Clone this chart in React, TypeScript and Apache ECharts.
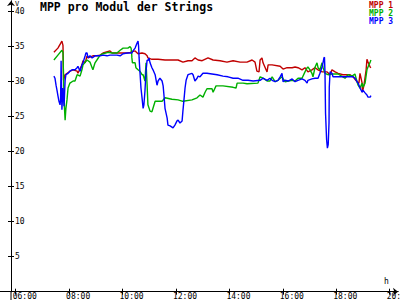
import React, { useEffect, useRef } from "react";
import * as echarts from "echarts";

const seriesNames = ["MPP 1", "MPP 2", "MPP 3"];
const seriesColors = ["#c00000", "#00b000", "#0000ff"];
const xTickHours = [6, 8, 10, 12, 14, 16, 18, 20];
const yTickValues = [5, 10, 15, 20, 25, 30, 35, 40];
const titleText = "MPP pro Modul der Strings";
const yUnit = "V";
const xUnit = "h";

// [hour of day, volts]
const mpp1: [number, number][] = [
  [7.43, 34.2], [7.58, 34.8], [7.73, 35.8], [7.77, 35.2], [7.79, 30.2], [7.85, 31.0], [8.03, 31.5],
  [8.15, 31.7], [8.3, 31.5], [8.33, 31.2], [8.48, 32.4], [8.52, 33.0], [8.6, 32.7], [8.67, 33.7],
  [8.71, 33.4], [8.89, 33.7], [9.04, 33.7], [9.16, 33.8], [9.27, 34.1], [9.53, 34.4], [9.61, 34.1],
  [9.79, 34.1], [9.98, 34.1], [10.17, 34.1], [10.28, 34.2], [10.47, 34.4], [10.58, 34.0], [10.73, 34.1],
  [10.84, 34.0], [10.92, 33.7], [10.95, 33.4], [11.1, 33.2], [11.33, 33.2], [11.59, 33.1], [11.85, 33.1],
  [12.08, 33.1], [12.26, 32.8], [12.45, 33.0], [12.6, 33.0], [12.71, 33.4], [12.83, 33.1], [12.98, 33.0],
  [13.2, 33.4], [13.39, 33.1], [13.65, 33.0], [13.91, 32.8], [14.14, 33.0], [14.4, 32.8], [14.66, 32.8],
  [14.85, 33.1], [14.96, 32.8], [15.03, 31.5], [15.11, 31.4], [15.15, 33.1], [15.22, 33.4], [15.26, 32.7],
  [15.41, 31.4], [15.45, 32.4], [15.6, 32.4], [15.9, 32.2], [16.01, 31.8], [16.16, 32.0], [16.35, 32.0],
  [16.46, 32.1], [16.57, 32.0], [16.72, 31.7], [16.83, 32.0], [16.94, 31.4], [17.09, 31.7], [17.21, 32.0],
  [17.32, 31.7], [17.47, 31.4], [17.66, 31.4], [17.77, 31.0], [17.84, 31.7], [17.96, 31.4], [18.07, 31.2],
  [18.25, 31.0], [18.52, 31.0], [18.63, 30.7], [18.78, 30.0], [18.85, 29.8], [18.89, 31.2], [18.97, 29.8],
  [18.98, 28.5], [19.04, 29.5], [19.12, 31.7], [19.15, 33.2], [19.19, 32.8], [19.27, 32.1], [19.3, 32.0],
];

const mpp2: [number, number][] = [
  [7.43, 33.1], [7.58, 33.8], [7.73, 34.5], [7.77, 34.2], [7.81, 27.4], [7.85, 24.5], [7.88, 26.2],
  [7.92, 27.4], [7.96, 29.1], [8.03, 29.8], [8.15, 30.1], [8.22, 30.1], [8.3, 31.0], [8.41, 30.8],
  [8.48, 31.7], [8.52, 32.4], [8.67, 33.1], [8.78, 32.8], [8.86, 32.0], [8.89, 31.7], [8.97, 32.7],
  [9.04, 33.1], [9.16, 33.8], [9.27, 34.0], [9.46, 34.2], [9.61, 34.1], [9.79, 34.1], [9.91, 34.5],
  [10.02, 34.8], [10.2, 34.8], [10.28, 35.0], [10.32, 34.8], [10.34, 34.1], [10.35, 33.4], [10.37, 32.7],
  [10.47, 32.7], [10.5, 32.0], [10.58, 31.7], [10.65, 31.5], [10.73, 31.0], [10.77, 31.0], [10.84, 30.1],
  [10.88, 32.7], [10.92, 29.5], [10.95, 26.7], [11.03, 25.8], [11.1, 25.7], [11.14, 26.2], [11.22, 27.2],
  [11.29, 27.2], [11.48, 27.2], [11.59, 27.7], [11.85, 27.5], [12.08, 27.4], [12.26, 27.2], [12.6, 27.4],
  [12.79, 27.7], [12.9, 28.1], [13.01, 27.8], [13.09, 28.5], [13.16, 29.0], [13.35, 29.0], [13.39, 28.5],
  [13.5, 29.4], [13.76, 29.4], [14.14, 29.2], [14.25, 29.1], [14.29, 29.8], [14.51, 29.8], [14.66, 29.7],
  [15.07, 29.8], [15.15, 30.7], [15.26, 30.5], [15.41, 30.1], [15.52, 30.1], [15.6, 30.7], [15.71, 30.0],
  [15.82, 30.2], [15.97, 30.7], [16.08, 30.0], [16.35, 30.2], [16.46, 30.1], [16.57, 30.5], [16.72, 30.5],
  [16.83, 31.4], [16.91, 32.0], [16.94, 32.1], [17.02, 31.7], [17.09, 31.2], [17.13, 30.7], [17.21, 32.1],
  [17.28, 32.7], [17.32, 32.0], [17.39, 31.7], [17.47, 32.7], [17.51, 32.0], [17.58, 31.2], [17.69, 31.0],
  [17.84, 31.1], [18.07, 31.1], [18.25, 30.7], [18.33, 30.5], [18.44, 31.0], [18.59, 30.8], [18.7, 31.1],
  [18.78, 30.0], [18.82, 29.5], [18.89, 29.1], [18.97, 29.8], [19.0, 29.2], [19.08, 29.8], [19.15, 31.7],
  [19.19, 32.1], [19.27, 32.8], [19.3, 33.1],
];

const mpp3: [number, number][] = [
  [7.43, 30.8], [7.47, 30.5], [7.51, 29.5], [7.55, 28.7], [7.58, 28.0], [7.62, 27.2], [7.66, 26.7],
  [7.68, 27.4], [7.7, 33.0], [7.73, 26.0], [7.77, 29.1], [7.81, 26.5], [7.85, 30.2], [7.88, 31.0],
  [7.96, 31.2], [8.03, 31.5], [8.11, 31.7], [8.22, 31.7], [8.3, 32.0], [8.33, 32.2], [8.41, 31.5],
  [8.48, 32.4], [8.52, 32.7], [8.6, 33.7], [8.63, 34.1], [8.67, 34.1], [8.71, 33.4], [8.78, 33.7],
  [8.86, 33.4], [8.97, 33.7], [9.16, 33.7], [9.27, 33.8], [9.42, 33.7], [9.53, 33.8], [9.79, 33.8],
  [9.91, 33.7], [10.02, 34.0], [10.17, 34.1], [10.35, 34.1], [10.39, 34.4], [10.47, 34.8], [10.54, 35.5],
  [10.58, 35.8], [10.6, 35.1], [10.62, 33.4], [10.65, 31.5], [10.69, 29.1], [10.73, 27.7], [10.77, 26.2],
  [10.8, 26.7], [10.84, 28.7], [10.88, 31.5], [10.92, 33.1], [10.95, 33.0], [10.99, 33.4], [11.03, 32.7],
  [11.1, 32.0], [11.14, 31.7], [11.22, 31.0], [11.29, 29.5], [11.33, 30.1], [11.4, 30.5], [11.48, 30.1],
  [11.52, 29.4], [11.55, 28.1], [11.59, 26.2], [11.67, 24.8], [11.7, 23.8], [11.78, 23.7], [11.89, 23.4],
  [11.96, 23.8], [12.04, 24.4], [12.08, 24.5], [12.15, 24.1], [12.23, 24.4], [12.26, 25.8], [12.3, 27.4],
  [12.34, 29.1], [12.38, 30.2], [12.45, 31.0], [12.6, 31.2], [12.64, 31.0], [12.71, 30.1], [12.79, 30.5],
  [12.83, 30.8], [12.9, 30.7], [13.01, 31.2], [13.16, 31.2], [13.35, 31.1], [13.54, 31.0], [13.76, 30.8],
  [13.95, 30.7], [14.14, 30.5], [14.32, 30.5], [14.51, 30.2], [14.7, 30.2], [14.89, 30.1], [15.15, 30.2],
  [15.26, 30.5], [15.41, 30.2], [15.52, 30.5], [15.6, 30.2], [15.71, 30.0], [15.82, 30.2], [15.9, 30.7],
  [15.97, 31.2], [16.01, 30.0], [16.08, 30.2], [16.2, 30.1], [16.35, 30.4], [16.46, 30.0], [16.57, 30.2],
  [16.72, 30.4], [16.83, 30.2], [16.91, 29.8], [16.94, 30.2], [17.09, 30.4], [17.21, 30.5], [17.32, 30.5],
  [17.39, 31.2], [17.47, 32.1], [17.51, 32.8], [17.54, 33.4], [17.56, 33.5], [17.58, 31.2], [17.6, 25.5],
  [17.64, 21.7], [17.67, 20.5], [17.7, 21.0], [17.73, 24.1], [17.74, 29.2], [17.77, 31.4], [17.84, 31.2],
  [17.88, 30.7], [18.25, 30.7], [18.63, 30.7], [18.7, 30.5], [18.78, 30.0], [18.82, 29.8], [18.89, 29.1],
  [18.97, 28.5], [19.0, 28.8], [19.08, 28.4], [19.15, 28.1], [19.19, 27.8], [19.27, 27.8], [19.3, 28.0],
];

const seriesData = [mpp1, mpp2, mpp3];

const FONT = "DejaVu Sans Mono";
const X_MIN = 5.412;
const X_MAX = 20.313;
const Y_MIN = 0;
const Y_MAX = 41.53;

const pad2 = (n: number) => (n < 10 ? "0" + n : "" + n);

export default function App() {
  const ref = useRef<HTMLDivElement>(null);

  useEffect(() => {
    document.body.style.margin = "0";
    if (!ref.current) return;
    const chart = echarts.init(ref.current, undefined, { renderer: "svg" });

    const axisLineStyle = { color: "#000", width: 1 };
    const xBase = {
      type: "value" as const,
      min: X_MIN,
      max: X_MAX,
      position: "bottom" as const,
      splitLine: { show: false },
    };
    const yBase = {
      type: "value" as const,
      min: Y_MIN,
      max: Y_MAX,
      position: "left" as const,
      offset: -11,
      splitLine: { show: false },
    };

    chart.setOption({
      animation: false,
      backgroundColor: "#fff",
      title: {
        text: titleText,
        left: 40,
        top: 1,
        padding: 0,
        textStyle: { fontFamily: FONT, fontWeight: "bold", fontSize: 11.5, color: "#000" },
      },
      grid: { left: 0, right: 2, top: 1, bottom: 8.3, containLabel: false, outerBoundsMode: "none" },
      xAxis: [
        {
          ...xBase,
          axisLine: {
            show: true,
            onZero: false,
            symbol: ["none", "arrow"],
            symbolSize: [6, 5],
            lineStyle: axisLineStyle,
          },
          axisTick: { show: true, length: 3, customValues: xTickHours, lineStyle: axisLineStyle },
          axisLabel: {
            show: true,
            customValues: xTickHours,
            formatter: (v: number) => pad2(Math.round(v)) + ":00",
            align: "left",
            margin: 1,
            lineHeight: 7,
            padding: [0, 0, 0, -3],
            fontFamily: FONT,
            fontSize: 8,
            color: "#000",
          },
        },
        {
          ...xBase,
          axisLine: { show: true, onZero: false, lineStyle: axisLineStyle },
          axisTick: { show: true, inside: true, length: 3, customValues: xTickHours, lineStyle: axisLineStyle },
          axisLabel: { show: false },
        },
      ],
      yAxis: [
        {
          ...yBase,
          axisLine: {
            show: true,
            onZero: false,
            symbol: ["none", "arrow"],
            symbolSize: [6, 5],
            lineStyle: axisLineStyle,
          },
          axisTick: { show: true, length: 3, customValues: yTickValues, lineStyle: axisLineStyle },
          axisLabel: {
            show: true,
            inside: true,
            customValues: yTickValues,
            margin: 4,
            fontFamily: FONT,
            fontSize: 8,
            color: "#000",
          },
        },
        {
          ...yBase,
          axisLine: { show: true, onZero: false, lineStyle: axisLineStyle },
          axisTick: { show: true, inside: true, length: 3, customValues: yTickValues, lineStyle: axisLineStyle },
          axisLabel: { show: false },
        },
      ],
      series: seriesNames.map((name, i) => ({
        name,
        type: "line",
        data: seriesData[i],
        showSymbol: false,
        symbol: "none",
        lineStyle: { color: seriesColors[i], width: 1.4 },
        itemStyle: { color: seriesColors[i] },
        clip: true,
      })),
      graphic: [
        {
          type: "line",
          shape: { x1: 11, y1: 291.7, x2: 11, y2: 300 },
          style: { stroke: "#000", lineWidth: 1 },
        },
        {
          type: "text",
          left: 15,
          top: 0,
          style: { text: yUnit, fontFamily: FONT, fontSize: 7, fill: "#000" },
        },
        {
          type: "text",
          left: 384,
          top: 277,
          style: { text: xUnit, fontFamily: FONT, fontSize: 8, fill: "#000" },
        },
        ...seriesNames.map((name, i) => ({
          type: "text",
          left: 369,
          top: 1 + i * 8,
          style: { text: name, fontFamily: FONT, fontSize: 8, fontWeight: "bold", fill: seriesColors[i] },
        })),
      ],
    });

    return () => chart.dispose();
  }, []);

  return <div ref={ref} style={{ width: 400, height: 300 }} />;
}
